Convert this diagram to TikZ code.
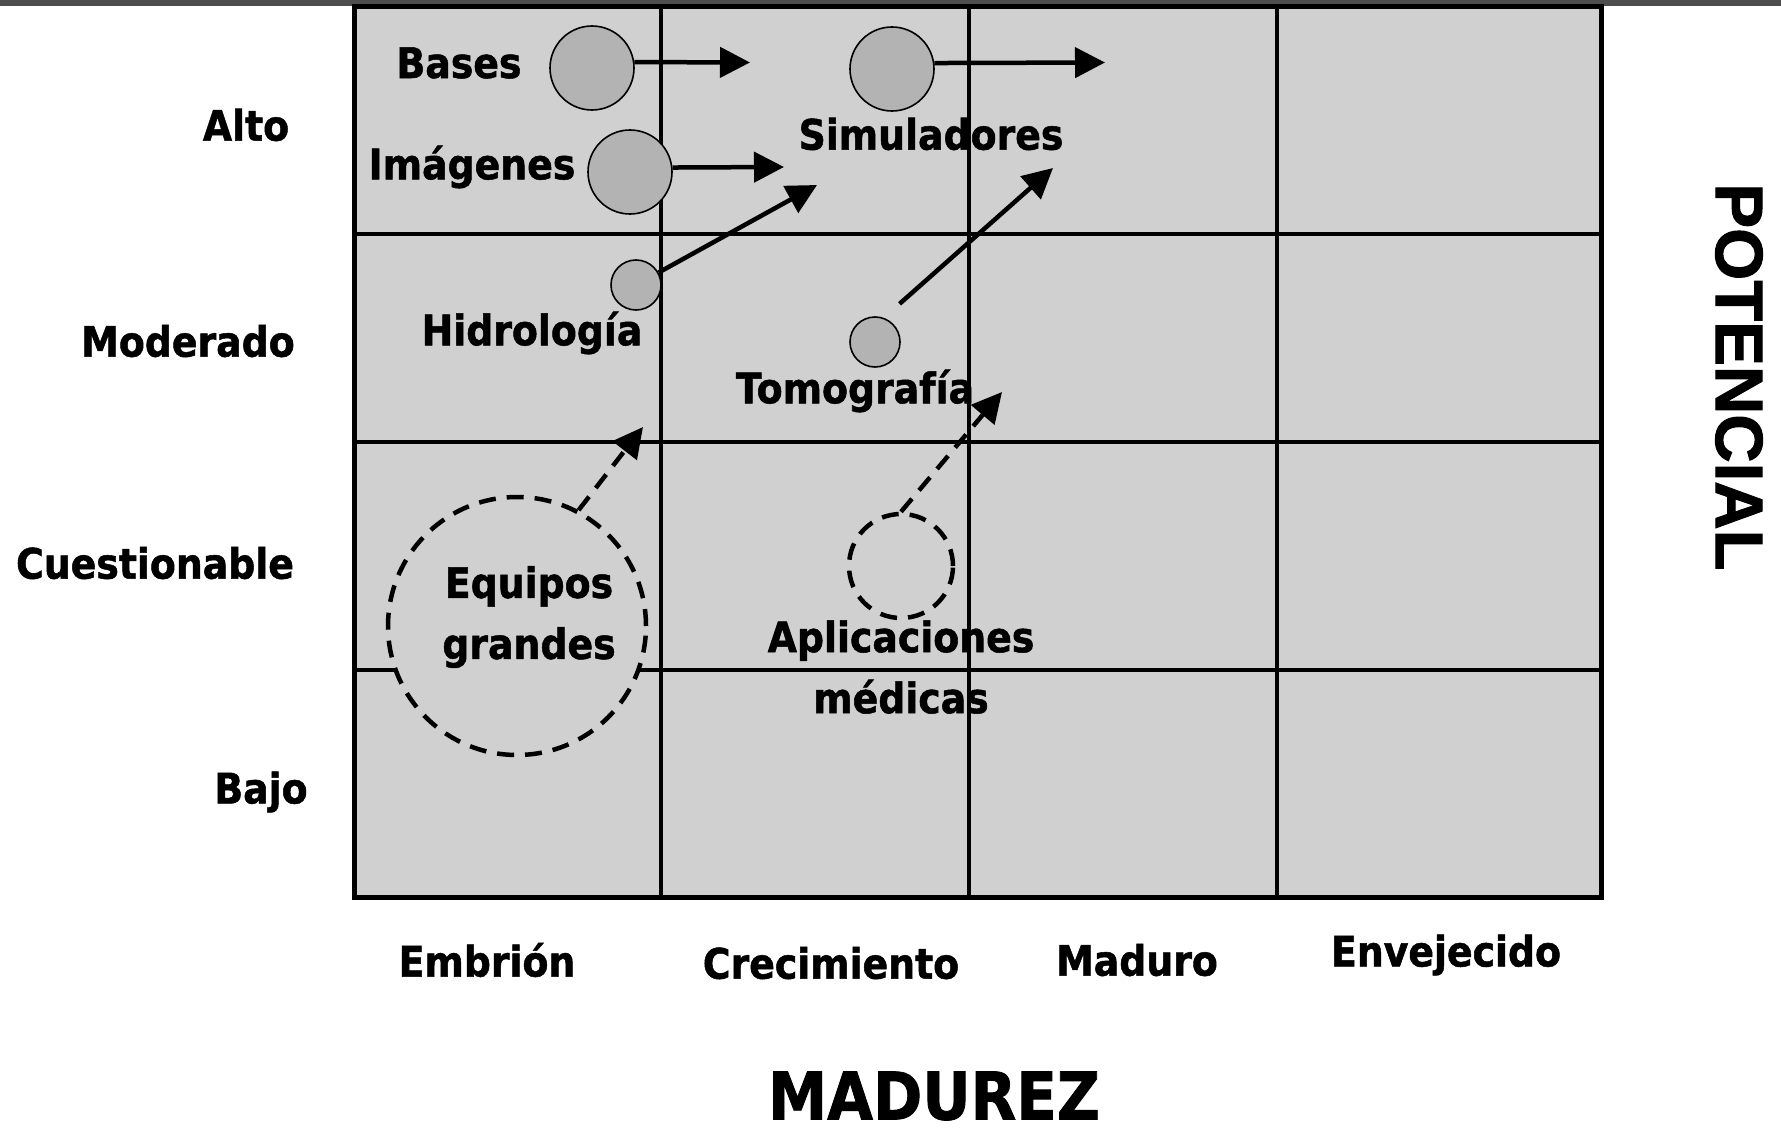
\documentclass[tikz,border=0pt]{standalone}
\usepackage{fontspec}
\setmainfont{DejaVu Sans}[FakeStretch=0.9, BoldFeatures={FakeBold=1.2}]
\newfontfamily\potfont{Liberation Sans}[BoldFeatures={FakeBold=1.5}]
\usetikzlibrary{arrows.meta}
\definecolor{cellgray}{HTML}{D0D0D0}
\definecolor{dotgray}{HTML}{B3B3B3}
\definecolor{bargray}{HTML}{4D4D4D}
\begin{document}
\begin{tikzpicture}[x=1pt,y=-1pt,
  gridline/.style={line width=4.5pt},
  lab/.style={font=\fontsize{42}{61}\selectfont\bfseries, inner sep=0pt, align=center},
  dot/.style={circle, draw=black, line width=1.6pt, fill=dotgray, inner sep=0pt},
  ring/.style={circle, draw=black, fill=cellgray, line width=4.5pt, dash pattern=on 17pt off 11pt, inner sep=0pt},
  arr/.style={line width=4.5pt, -{Triangle[length=30pt,width=30pt]}},
  darr/.style={arr, dash pattern=on 17pt off 11pt},
]
\useasboundingbox (0,0) rectangle (1781,1129);
\fill[white] (0,0) rectangle (1781,1129);
\fill[bargray] (0,0) rectangle (1781,6);
% grid
\fill[cellgray] (354,7) rectangle (1601,897);
\draw[gridline] (661,7) -- (661,897) (969,7) -- (969,897) (1277,7) -- (1277,897);
\draw[gridline] (354,234) -- (1601,234) (354,442) -- (1601,442) (354,670) -- (1601,670);
\draw[line width=5pt] (354,7) rectangle (1601,897);
% dashed rings
\node[ring, minimum size=258pt] (eq) at (517,626) {};
\node[ring, minimum size=104pt] (apl) at (901,566) {};
% row labels
\node[lab] (alto) at (246,125) {Alto};
\node[lab] (mod) at (188,341) {Moderado};
\node[lab] (cue) at (155,563) {Cuestionable};
\node[lab] (bajo) at (261,792) {Bajo};
% column labels
\node[lab] (emb) at (487,960) {Embrión};
\node[lab] (cre) at (831,963) {Crecimiento};
\node[lab] (mad) at (1137,960) {Maduro};
\node[lab] (env) at (1446,955) {Envejecido};
\node[font=\fontsize{66}{70}\selectfont\bfseries, inner sep=0pt] (madurez) at (934,1096) {MADUREZ};
\node[font=\potfont\fontsize{67}{70}\selectfont\bfseries, inner sep=0pt, rotate=-90] (pot) at (1739,377) {POTENCIAL};
% item labels
\node[lab] (tbases) at (459,63) {Bases};
\node[lab] (tsim) at (931,134) {Simuladores};
\node[lab] (timg) at (472,167) {Imágenes};
\node[lab] (thid) at (532,333) {Hidrología};
\node[lab] (ttom) at (855,391) {Tomografía};
\node[lab] (teq) at (529,617) {Equipos\\grandes};
\node[lab] (tapl) at (901,667) {Aplicaciones\\médicas};
% arrow targets
\coordinate (basesT) at (750,62.5);
\coordinate (simT) at (1105,62.5);
\coordinate (imgT) at (784,167);
\coordinate (hidT) at (817,185);
\coordinate (tomT) at (1053,168);
\coordinate (eqT) at (643,427);
\coordinate (aplT) at (1002,392);
% circles
\node[dot, minimum size=84pt] (bases) at (592,68) {};
\node[dot, minimum size=84pt] (sim) at (892,69) {};
\node[dot, minimum size=84pt] (img) at (630,172) {};
\node[dot, minimum size=50pt] (hid) at (636,285) {};
\node[dot, minimum size=50pt] (tom) at (875,342) {};
% arrows
\draw[arr] (bases.8) -- (basesT);
\draw[arr] (sim.8) -- (simT);
\draw[arr] (img.6) -- (imgT);
\draw[arr] (hid) -- (hidT);
\draw[arr, shorten <=21pt] (tom.70) -- (tomT);
\draw[darr] (eq.62) -- (eqT);
\draw[darr] (apl.north) -- (aplT);
\end{tikzpicture}
\end{document}
